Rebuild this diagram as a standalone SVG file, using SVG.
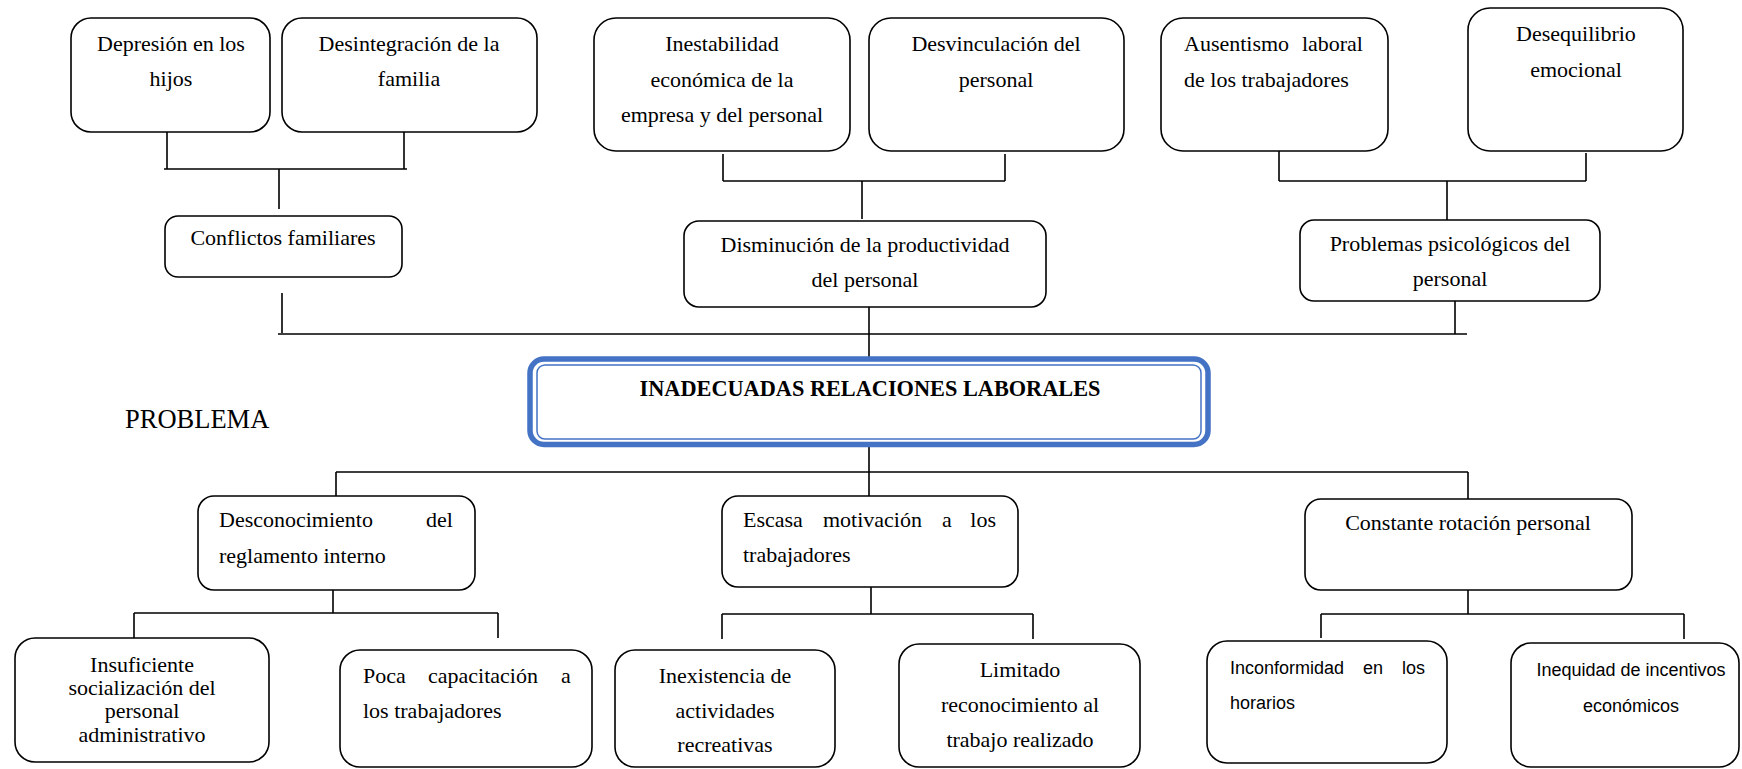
<svg xmlns="http://www.w3.org/2000/svg" width="1742" height="769" viewBox="0 0 1742 769">
<style>
.box{fill:#fff;stroke:#000;stroke-width:1.6}
.ln{fill:none;stroke:#000;stroke-width:1.6}
.t{font-family:"Liberation Serif","Times New Roman",serif;font-size:22px;fill:#000}
.c{text-anchor:middle}
.e{text-anchor:end}
.s{font-family:"Liberation Sans",Arial,sans-serif;font-size:18px;fill:#000}
.b{font-weight:bold}
</style>
<rect width="1742" height="769" fill="#fff"/>
<g id="connectors">
<path class="ln" d="M167 132V169M404 132V169M164 169H407M279 169V209"/>
<path class="ln" d="M282 293V333M278 334H1467"/>
<path class="ln" d="M723 154V181M1005 154V181M723 181H1005M862 181V219"/>
<path class="ln" d="M869 307V357"/>
<path class="ln" d="M1279 151V181M1586 153V181M1279 181H1586M1447 181V220"/>
<path class="ln" d="M1455 301V334"/>
<path class="ln" d="M869 447V496M336 472H1468M336 472V496M1468 472V499"/>
<path class="ln" d="M333 590V613M134 613H498M134 613V638M498 613V638"/>
<path class="ln" d="M871 587V614M722 614H1033M722 614V639M1033 614V639"/>
<path class="ln" d="M1468 590V614M1321 614H1684M1321 614V638M1684 614V639"/>
</g>
<g id="n-depresion">
<rect class="box" x="71" y="18" width="199" height="114" rx="20"/>
<text class="t c" x="171" y="51">Depresión en los</text>
<text class="t c" x="171" y="86">hijos</text>
</g>
<g id="n-desintegracion">
<rect class="box" x="282" y="18" width="255" height="114" rx="20"/>
<text class="t c" x="409" y="51">Desintegración de la</text>
<text class="t c" x="409" y="86">familia</text>
</g>
<g id="n-conflictos">
<rect class="box" x="165" y="216" width="237" height="61" rx="13"/>
<text class="t c" x="283" y="245">Conflictos familiares</text>
</g>
<g id="n-inestabilidad">
<rect class="box" x="594" y="18" width="256" height="133" rx="22"/>
<text class="t c" x="722" y="51">Inestabilidad</text>
<text class="t c" x="722" y="87">económica de la</text>
<text class="t c" x="722" y="122">empresa y del personal</text>
</g>
<g id="n-desvinculacion">
<rect class="box" x="869" y="18" width="255" height="133" rx="22"/>
<text class="t c" x="996" y="51">Desvinculación del</text>
<text class="t c" x="996" y="87">personal</text>
</g>
<g id="n-disminucion">
<rect class="box" x="684" y="221" width="362" height="86" rx="15"/>
<text class="t c" x="865" y="252">Disminución de la productividad</text>
<text class="t c" x="865" y="287">del personal</text>
</g>
<g id="n-ausentismo">
<rect class="box" x="1161" y="18" width="227" height="133" rx="22"/>
<text class="t" x="1184" y="51">Ausentismo</text>
<text class="t e" x="1363" y="51">laboral</text>
<text class="t" x="1184" y="87">de los trabajadores</text>
</g>
<g id="n-desequilibrio">
<rect class="box" x="1468" y="8" width="215" height="143" rx="22"/>
<text class="t c" x="1576" y="41">Desequilibrio</text>
<text class="t c" x="1576" y="77">emocional</text>
</g>
<g id="n-problemas">
<rect class="box" x="1300" y="220" width="300" height="81" rx="14"/>
<text class="t c" x="1450" y="251">Problemas psicológicos del</text>
<text class="t c" x="1450" y="286">personal</text>
</g>
<g id="n-central">
<rect x="530" y="359" width="678" height="85.5" rx="14" fill="#fff" stroke="#4472C4" stroke-width="5.5"/>
<rect x="537" y="365" width="664" height="74" rx="8" fill="none" stroke="#4472C4" stroke-width="1.5"/>
<text class="t b c" x="870" y="396" style="font-size:22.3px">INADECUADAS RELACIONES LABORALES</text>
</g>
<g id="n-problema-label">
<text class="t" x="125" y="428" style="font-size:26.5px">PROBLEMA</text>
</g>
<g id="n-desconocimiento">
<rect class="box" x="198" y="496" width="277" height="94" rx="16"/>
<text class="t" x="219" y="527">Desconocimiento</text>
<text class="t e" x="453" y="527">del</text>
<text class="t" x="219" y="563">reglamento interno</text>
</g>
<g id="n-escasa">
<rect class="box" x="722" y="496" width="296" height="91" rx="16"/>
<text class="t" x="743" y="527">Escasa</text>
<text class="t" x="823" y="527">motivación</text>
<text class="t" x="942" y="527">a</text>
<text class="t e" x="996" y="527">los</text>
<text class="t" x="743" y="562">trabajadores</text>
</g>
<g id="n-constante">
<rect class="box" x="1305" y="499" width="327" height="91" rx="16"/>
<text class="t c" x="1468" y="530">Constante rotación personal</text>
</g>
<g id="n-insuficiente">
<rect class="box" x="15" y="638" width="254" height="124" rx="20"/>
<text class="t c" x="142" y="672">Insuficiente</text>
<text class="t c" x="142" y="695">socialización del</text>
<text class="t c" x="142" y="718">personal</text>
<text class="t c" x="142" y="742">administrativo</text>
</g>
<g id="n-poca">
<rect class="box" x="340" y="650" width="252" height="117" rx="20"/>
<text class="t" x="363" y="683">Poca</text>
<text class="t" x="428" y="683">capacitación</text>
<text class="t" x="561" y="683">a</text>
<text class="t" x="363" y="718">los trabajadores</text>
</g>
<g id="n-inexistencia">
<rect class="box" x="615" y="650" width="220" height="117" rx="20"/>
<text class="t c" x="725" y="683">Inexistencia de</text>
<text class="t c" x="725" y="718">actividades</text>
<text class="t c" x="725" y="752">recreativas</text>
</g>
<g id="n-limitado">
<rect class="box" x="899" y="644" width="241" height="123" rx="20"/>
<text class="t c" x="1020" y="677">Limitado</text>
<text class="t c" x="1020" y="712">reconocimiento al</text>
<text class="t c" x="1020" y="747">trabajo realizado</text>
</g>
<g id="n-inconformidad">
<rect class="box" x="1207" y="641" width="240" height="122" rx="20"/>
<text class="s" x="1230" y="674">Inconformidad</text>
<text class="s" x="1363" y="674">en</text>
<text class="s e" x="1425" y="674">los</text>
<text class="s" x="1230" y="709">horarios</text>
</g>
<g id="n-inequidad">
<rect class="box" x="1511" y="643" width="228" height="124" rx="20"/>
<text class="s c" x="1631" y="676">Inequidad de incentivos</text>
<text class="s c" x="1631" y="712">económicos</text>
</g>
</svg>
